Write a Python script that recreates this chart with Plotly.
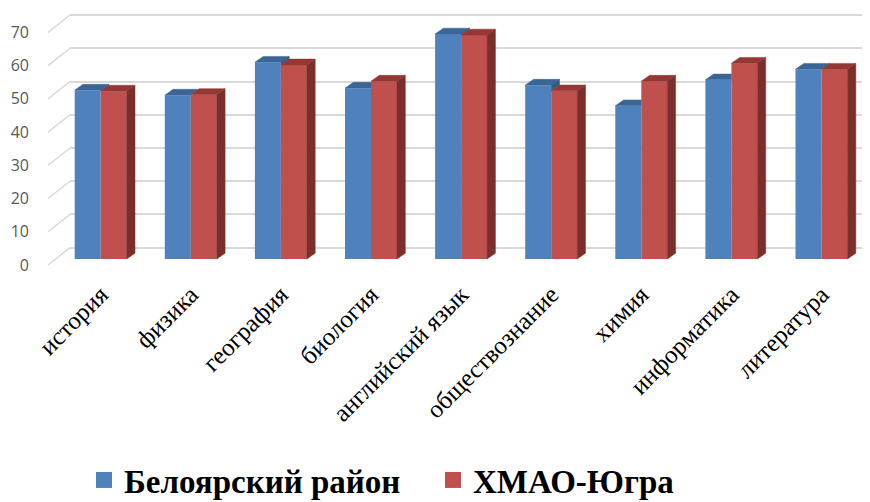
import plotly.graph_objects as go

# ---------------- data ----------------
categories = ["история", "физика", "география", "биология", "английский язык",
              "обществознание", "химия", "информатика", "литература"]
beloyarsky = [50.8, 49.3, 59.2, 51.4, 67.7, 52.3, 46.1, 53.9, 57.1]
hmao = [50.5, 49.5, 58.4, 53.5, 67.4, 50.6, 53.5, 58.9, 57.1]
series_names = ["Белоярский район", "ХМАО-Югра"]
y_ticks = [0, 10, 20, 30, 40, 50, 60, 70]

# ---------------- style / geometry ----------------
BLUE, BLUE_TOP, BLUE_SIDE = "#4F81BD", "#3A6594", "#345A87"
RED, RED_TOP, RED_SIDE = "#C0504D", "#953735", "#7A2F2D"
GRID = "#D9D9D9"

OFF = 8                      # page offset of the figure (body margin)
W, H = 870 - OFF, 502 - OFF
# plot area in page pixels
P_LEFT, P_RIGHT, P_TOP, P_BOTTOM = 70, 868, 10, 270
M_L, M_R = P_LEFT - OFF, (W + OFF) - P_RIGHT
M_T, M_B = P_TOP - OFF, (H + OFF) - P_BOTTOM
PW = P_RIGHT - P_LEFT
PH = P_BOTTOM - P_TOP

PX_X = 90.1          # px per category
X0_PX = 100.7        # page pixel of first category centre
PX_Y = 3.324         # px per value unit
BAR_BASE_PX = 259.0  # page pixel of bar front base
GRID_BASE_PX = 247.7 # page pixel of back-wall zero line
LABEL_BASE_PX = 265.0
WALL_FRONT_PX = 48.0

BW = 26.0 / PX_X     # front face width in x units
DX = 8.3 / PX_X      # depth offset
DY = 5.8 / PX_Y


def yrange(base_px):
    top = (base_px - P_TOP) / PX_Y
    bot = (base_px - P_BOTTOM) / PX_Y
    return [bot, top]


xmin = -(X0_PX - P_LEFT) / PX_X
xmax = xmin + PW / PX_X

fig = go.Figure()

# ---- blue depth faces (lowest layer) ----
bx, by = [], []
for i, (vb, vr) in enumerate(zip(beloyarsky, hmao)):
    if vr > vb:
        pts = [(i - BW, vb), (i, vb)]
        if vr < vb + DY:
            pts += [(i, vr), (i + DX * (vb + DY - vr) / DY, vb + DY)]
        else:
            pts += [(i, vb + DY)]
        pts += [(i - BW + DX, vb + DY), (i - BW, vb)]
    else:
        pts = [(i - BW, vb), (i, vb), (i + DX, vb + DY), (i - BW + DX, vb + DY), (i - BW, vb)]
    bx += [p[0] for p in pts] + [None]
    by += [p[1] for p in pts] + [None]
fig.add_trace(go.Scatter(x=bx, y=by, fill="toself", mode="lines", fillcolor=BLUE_TOP,
                         line=dict(width=0.5, color=BLUE_TOP), hoverinfo="skip",
                         showlegend=False, yaxis="y"))
sx, sy = [], []
for i, (vb, vr) in enumerate(zip(beloyarsky, hmao)):
    if vb > vr:
        pts = [(i, vr), (i + DX, vr + DY), (i + DX, vb + DY), (i, vb), (i, vr)]
        sx += [p[0] for p in pts] + [None]
        sy += [p[1] for p in pts] + [None]
if sx:
    fig.add_trace(go.Scatter(x=sx, y=sy, fill="toself", mode="lines", fillcolor=BLUE_SIDE,
                             line=dict(width=0.5, color=BLUE_SIDE), hoverinfo="skip",
                             showlegend=False, yaxis="y"))

# helper axes traces
fig.add_trace(go.Scatter(x=[None], y=[None], yaxis="y2", showlegend=False, hoverinfo="skip"))
fig.add_trace(go.Scatter(x=[None], y=[None], yaxis="y3", showlegend=False, hoverinfo="skip"))

# ---- front faces (bars) ----
idx = list(range(len(categories)))
fig.add_trace(go.Bar(x=idx, y=beloyarsky, width=BW, offset=-BW, marker=dict(color=BLUE, line=dict(width=0)),
                     name=series_names[0], showlegend=False, yaxis="y4"))
fig.add_trace(go.Bar(x=idx, y=hmao, width=BW, offset=0, marker=dict(color=RED, line=dict(width=0)),
                     name=series_names[1], showlegend=False, yaxis="y4"))

# ---- red depth faces ----
rx, ry, tx, ty = [], [], [], []
for i, vr in enumerate(hmao):
    pts = [(i + BW, 0), (i + BW + DX, DY), (i + BW + DX, vr + DY), (i + BW, vr), (i + BW, 0)]
    rx += [p[0] for p in pts] + [None]
    ry += [p[1] for p in pts] + [None]
    pts = [(i, vr), (i + BW, vr), (i + BW + DX, vr + DY), (i + DX, vr + DY), (i, vr)]
    tx += [p[0] for p in pts] + [None]
    ty += [p[1] for p in pts] + [None]
fig.add_trace(go.Scatter(x=rx, y=ry, fill="toself", mode="lines", fillcolor=RED_SIDE,
                         line=dict(width=0.5, color=RED_SIDE), hoverinfo="skip",
                         showlegend=False, yaxis="y4"))
fig.add_trace(go.Scatter(x=tx, y=ty, fill="toself", mode="lines", fillcolor=RED_TOP,
                         line=dict(width=0.5, color=RED_TOP), hoverinfo="skip",
                         showlegend=False, yaxis="y4"))

# ---- legend entries ----
for name, col in zip(series_names, [BLUE, RED]):
    fig.add_trace(go.Scatter(x=[None], y=[None], mode="markers", name=name,
                             marker=dict(symbol="square", size=16, color=col), yaxis="y4"))

# ---- side wall diagonal lines ----
shapes = []
wall_dy = (LABEL_BASE_PX - GRID_BASE_PX) / PX_Y
for v in y_ticks:
    shapes.append(dict(type="line", xref="paper", yref="y3",
                       x0=(WALL_FRONT_PX - P_LEFT) / PW, y0=v, x1=0, y1=v + wall_dy,
                       line=dict(color=GRID, width=1.5), layer="below"))

fig.update_layout(
    width=W, height=H,
    margin=dict(l=M_L, r=M_R, t=M_T, b=M_B, pad=0, autoexpand=False),
    paper_bgcolor="white", plot_bgcolor="white",
    barmode="overlay",
    shapes=shapes,
    xaxis=dict(range=[xmin, xmax], tickvals=idx, ticktext=categories, tickangle=-45,
               showgrid=False, zeroline=False, showline=False, ticks="",
               tickfont=dict(family="Liberation Serif", size=25, color="black"),
               ticklabelstandoff=4, automargin=False),
    yaxis=dict(range=yrange(BAR_BASE_PX), showgrid=False, zeroline=False, showticklabels=False,
               showline=False, automargin=False),
    yaxis2=dict(range=yrange(GRID_BASE_PX), overlaying="y", tickvals=y_ticks, showgrid=True,
                gridcolor=GRID, gridwidth=1.5, zeroline=False, showticklabels=False,
                showline=False, automargin=False),
    yaxis3=dict(range=yrange(LABEL_BASE_PX), overlaying="y", tickvals=y_ticks, showgrid=False,
                zeroline=False, showline=False, ticks="", ticklabelstandoff=40,
                tickfont=dict(family="Open Sans", size=16, color="#595959"), automargin=False),
    yaxis4=dict(range=yrange(BAR_BASE_PX), overlaying="y", showgrid=False, zeroline=False,
                showticklabels=False, showline=False, automargin=False),
    legend=dict(orientation="h", x=(84 - P_LEFT) / PW, xanchor="left",
                y=-(452 - P_BOTTOM) / PH, yanchor="top",
                font=dict(family="Liberation Serif", size=33, color="black", weight="bold"),
                entrywidth=304, bgcolor="rgba(0,0,0,0)"),
    showlegend=True,
)

fig.write_html("out.html")
